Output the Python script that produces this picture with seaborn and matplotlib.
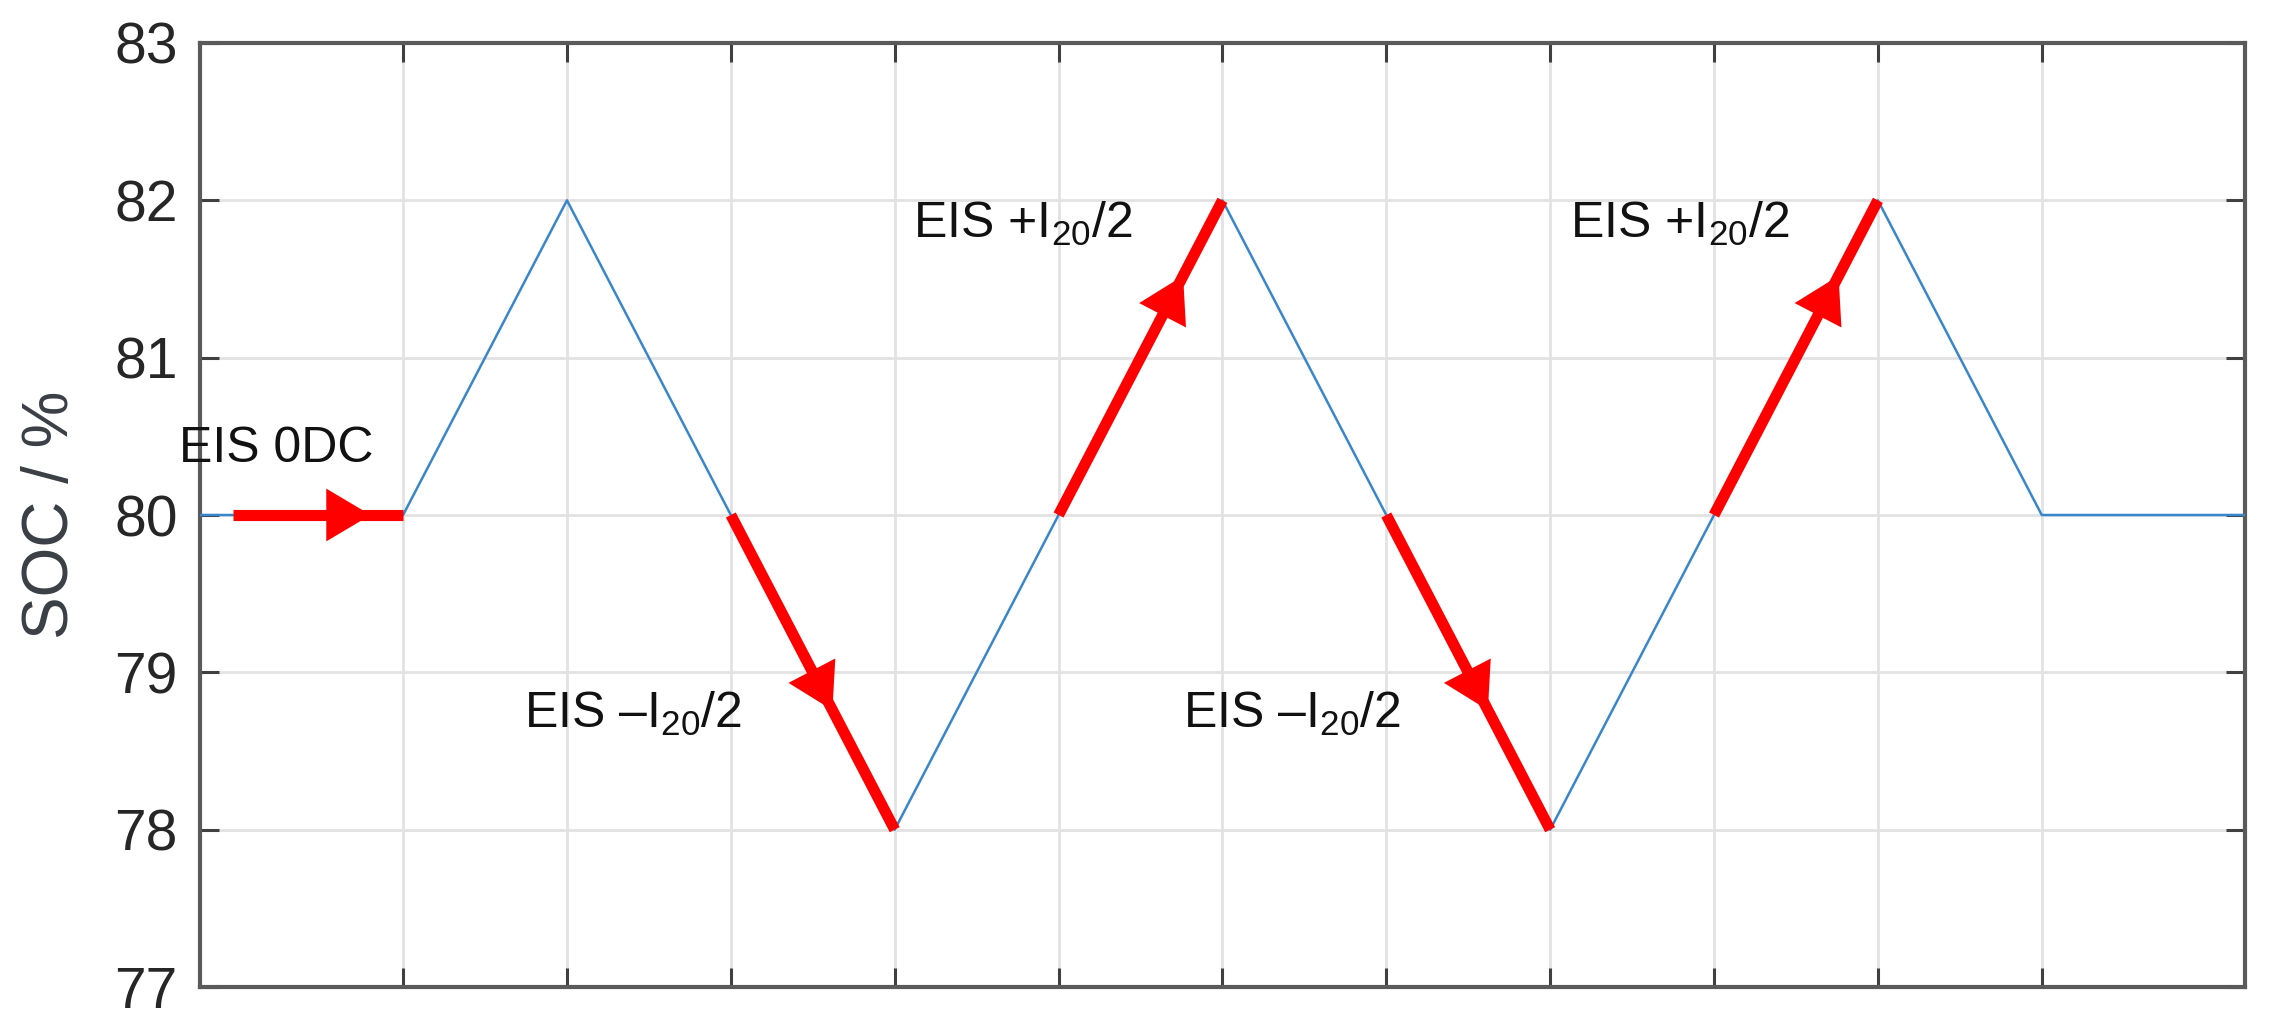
import numpy as np
import pandas as pd
import matplotlib
matplotlib.use("Agg")
import matplotlib.pyplot as plt
import seaborn as sns

# ---- data ----
t_blue = [-0.24, 1, 2, 3, 4, 5, 6, 7, 8, 9, 10, 11, 12.24]
soc_blue = [80, 80, 82, 80, 78, 80, 82, 80, 78, 80, 82, 80, 80]

seg_id = [0, 0, 1, 1, 2, 2, 3, 3, 4, 4]
t_red = [-0.04, 1, 3, 4, 5, 6, 7, 8, 9, 10]
soc_red = [80, 80, 80, 78, 80, 82, 80, 78, 80, 82]
arrow_frac = [0.81, 0.62, 0.76, 0.62, 0.76]

labels = ["EIS 0DC", "EIS \u2013I$_{20}$/2", "EIS +I$_{20}$/2",
          "EIS \u2013I$_{20}$/2", "EIS +I$_{20}$/2"]
label_x = [-0.37, 1.74, 4.11, 5.76, 8.12]
label_y = [80.34, 78.65, 81.76, 78.65, 81.76]

yticks = [77, 78, 79, 80, 81, 82, 83]
xgrid = [1, 2, 3, 4, 5, 6, 7, 8, 9, 10, 11]
xlim = (-0.24, 12.24)
ylim = (77, 83)

# ---- style ----
sns.set_style("white")
plt.rcParams['font.family'] = ['Liberation Sans', 'DejaVu Sans']
plt.rcParams['mathtext.fontset'] = 'custom'
plt.rcParams['mathtext.rm'] = 'Liberation Sans'
plt.rcParams['mathtext.it'] = 'Liberation Sans'
plt.rcParams['mathtext.default'] = 'rm'

fig = plt.figure(figsize=(22.69, 10.11), dpi=100)
ax = fig.add_axes([0.0881, 0.0237, 0.9013, 0.9338])

df_blue = pd.DataFrame({"t": t_blue, "soc": soc_blue})
df_red = pd.DataFrame({"t": t_red, "soc": soc_red, "seg": seg_id})

sns.lineplot(data=df_blue, x="t", y="soc", sort=False, estimator=None,
             color="#3a86cc", lw=1.8, ax=ax, zorder=3)
sns.lineplot(data=df_red, x="t", y="soc", units="seg", estimator=None,
             sort=False, color="#ff0000", lw=8, ax=ax, zorder=4,
             solid_capstyle="butt")

for s, f in enumerate(arrow_frac):
    sub = df_red[df_red.seg == s]
    x0, x1 = sub.t.values
    y0, y1 = sub.soc.values
    tip = (x0 + f * (x1 - x0), y0 + f * (y1 - y0))
    ax.annotate("", xy=tip, xytext=(x0, y0),
                arrowprops=dict(arrowstyle="-|>,head_length=3.2,head_width=1.9",
                                color="#ff0000", lw=0, shrinkA=0, shrinkB=0,
                                mutation_scale=10),
                zorder=5)

for txt, x, y in zip(labels, label_x, label_y):
    ax.text(x, y, txt, fontsize=36, color="#111111", ha="left", va="baseline",
            zorder=6, clip_on=False)

ax.set_xlim(*xlim)
ax.set_ylim(*ylim)
ax.set_xticks(xgrid)
ax.set_xticklabels([])
ax.set_yticks(yticks)
ax.set_yticklabels([str(v) for v in yticks])
ax.grid(True, color="#e2e2e2", lw=2)
ax.set_axisbelow(True)
ax.tick_params(axis="both", which="both", direction="in", length=14, width=2.2,
               color="#404040", top=True, right=True, bottom=True, left=True,
               labelsize=41, labelcolor="#262626", pad=16)
for sp in ax.spines.values():
    sp.set_visible(True)
    sp.set_color("#5a5a5a")
    sp.set_linewidth(3)
ax.set_xlabel("")
ax.set_ylabel("SOC / %", fontsize=46, color="#3a3f46", labelpad=24)

fig.savefig("out.png", dpi=100)
